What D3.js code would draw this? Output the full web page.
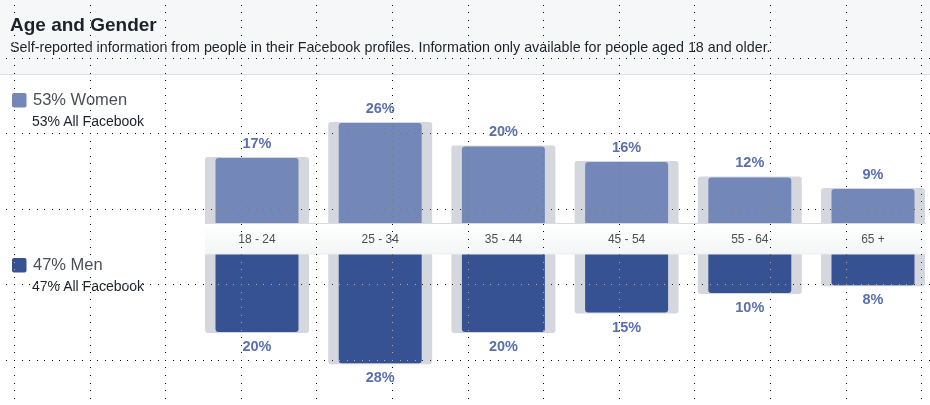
<!DOCTYPE html>
<html>
<head>
<meta charset="utf-8">
<script src="https://cdn.jsdelivr.net/npm/d3@7"></script>
<style>
  body { margin: 0; background: #fff; }
  svg { display: block; font-family: "Liberation Sans", Arial, Helvetica, sans-serif; }
</style>
</head>
<body>
<div id="chart"></div>
<script>
const ageGroups = ["18 - 24", "25 - 34", "35 - 44", "45 - 54", "55 - 64", "65 +"];
const womenPct = [17, 26, 20, 16, 12, 9];
const menPct = [20, 28, 20, 15, 10, 8];
const genders = ["Women", "Men"];
const genderShare = [53, 47];
const allFacebookShare = [53, 47];

const width = 930;
const height = 405;

const womenColor = "#7388b8";
const menColor = "#365292";
const backColor = "#d4d7de";
const labelColor = "#5a70ae";

let svg = d3.select("#chart")
    .append("svg")
    .attr("width", width)
    .attr("height", height);

// header
svg.append("rect")
    .attr("x", 0)
    .attr("y", 0)
    .attr("width", width)
    .attr("height", 74)
    .attr("fill", "#f6f7f9");

svg.append("line")
    .attr("x1", 0)
    .attr("x2", width)
    .attr("y1", 74.5)
    .attr("y2", 74.5)
    .attr("stroke", "#dddfe2");

svg.append("text")
    .attr("x", 10)
    .attr("y", 31)
    .style("font-size", "19px")
    .style("font-weight", "bold")
    .attr("fill", "#1d2129")
    .text("Age and Gender");

svg.append("text")
    .attr("x", 10)
    .attr("y", 52)
    .style("font-size", "14.3px")
    .attr("fill", "#1d2129")
    .text("Self-reported information from people in their Facebook profiles. Information only available for people aged 18 and older.");

// scales
const x = d3.scaleBand()
    .domain(ageGroups)
    .range([205, 925])
    .paddingInner(0.156)
    .paddingOuter(0);

const yUp = d3.scaleLinear().domain([0, 30]).range([224, 224 - 30 * 3.88]);
const yDown = d3.scaleLinear().domain([0, 30]).range([254, 254 + 30 * 3.9]);

const inset = 10.5;

// women (above the band)
svg.append("g")
    .selectAll("rect")
    .data(womenPct)
    .join("rect")
    .attr("x", (d, i) => x(ageGroups[i]))
    .attr("y", d => yUp(d) - 1)
    .attr("width", x.bandwidth())
    .attr("height", d => yUp(0) - yUp(d) + 6)
    .attr("rx", 3)
    .attr("fill", backColor);

svg.append("g")
    .selectAll("rect")
    .data(womenPct)
    .join("rect")
    .attr("x", (d, i) => x(ageGroups[i]) + inset)
    .attr("y", d => yUp(d))
    .attr("width", x.bandwidth() - 2 * inset)
    .attr("height", d => yUp(0) - yUp(d) + 5)
    .attr("rx", 3)
    .attr("fill", womenColor);

// men (below the band)
svg.append("g")
    .selectAll("rect")
    .data(menPct)
    .join("rect")
    .attr("x", (d, i) => x(ageGroups[i]))
    .attr("y", yDown(0) - 6)
    .attr("width", x.bandwidth())
    .attr("height", d => yDown(d) - yDown(0) + 7)
    .attr("rx", 3)
    .attr("fill", backColor);

svg.append("g")
    .selectAll("rect")
    .data(menPct)
    .join("rect")
    .attr("x", (d, i) => x(ageGroups[i]) + inset)
    .attr("y", yDown(0) - 5)
    .attr("width", x.bandwidth() - 2 * inset)
    .attr("height", d => yDown(d) - yDown(0) + 5)
    .attr("rx", 3)
    .attr("fill", menColor);

// axis band
const grad = svg.append("defs")
    .append("linearGradient")
    .attr("id", "band")
    .attr("x1", 0).attr("x2", 0)
    .attr("y1", 0).attr("y2", 1);
grad.append("stop").attr("offset", "0%").attr("stop-color", "#ffffff");
grad.append("stop").attr("offset", "100%").attr("stop-color", "#f4f5f6");

svg.append("rect")
    .attr("x", 205)
    .attr("y", 224)
    .attr("width", 721)
    .attr("height", 30)
    .attr("fill", "url(#band)");

svg.append("line")
    .attr("x1", 205).attr("x2", 926)
    .attr("y1", 223.5).attr("y2", 223.5)
    .attr("stroke", "#d9dbe0");

svg.append("line")
    .attr("x1", 205).attr("x2", 926)
    .attr("y1", 254).attr("y2", 254)
    .attr("stroke", "#eceef0");

const axis = d3.axisBottom(x).tickSize(0).tickPadding(0);
const axisG = svg.append("g")
    .attr("transform", "translate(0,234)")
    .call(axis);
axisG.select(".domain").remove();
axisG.selectAll("text")
    .attr("dy", "0.71em")
    .style("font-size", "12px")
    .style("font-family", "inherit")
    .attr("fill", "#4b4f56");

// percent labels
svg.append("g")
    .selectAll("text")
    .data(womenPct)
    .join("text")
    .attr("x", (d, i) => x(ageGroups[i]) + x.bandwidth() / 2)
    .attr("y", d => yUp(d) - 10)
    .attr("text-anchor", "middle")
    .style("font-size", "14.5px")
    .style("font-weight", "bold")
    .attr("fill", labelColor)
    .text(d => d + "%");

svg.append("g")
    .selectAll("text")
    .data(menPct)
    .join("text")
    .attr("x", (d, i) => x(ageGroups[i]) + x.bandwidth() / 2)
    .attr("y", d => yDown(d) + 19)
    .attr("text-anchor", "middle")
    .style("font-size", "14.5px")
    .style("font-weight", "bold")
    .attr("fill", labelColor)
    .text(d => d + "%");

// legend
const legendY = [93, 258];
const legendColors = [womenColor, menColor];

genders.forEach((g, i) => {
    const legend = svg.append("g")
        .attr("transform", `translate(12,${legendY[i]})`);

    legend.append("rect")
        .attr("width", 14.5)
        .attr("height", 14.5)
        .attr("rx", 2)
        .attr("fill", legendColors[i]);

    legend.append("text")
        .attr("x", 21)
        .attr("y", 11.5)
        .style("font-size", "16.5px")
        .attr("fill", "#4b4f56")
        .text(genderShare[i] + "% " + g);

    legend.append("text")
        .attr("x", 20)
        .attr("y", 32.5)
        .style("font-size", "14px")
        .attr("fill", "#1d2129")
        .text(allFacebookShare[i] + "% All Facebook");
});

// dotted ruler grid laid over the screenshot
const gridStep = 75.6;
const dotStep = gridStep / 10;
const gridX = d3.range(14.5, width, gridStep);
const gridY = d3.range(58, height, gridStep);
const dots = [];
gridX.forEach(gx => {
    d3.range(gridY[0] - dotStep * 7, height, dotStep).forEach(gy => dots.push([gx, gy]));
});
gridY.forEach(gy => {
    d3.range(gridX[0] - dotStep, width, dotStep).forEach(gx => dots.push([gx, gy]));
});

svg.append("g")
    .style("mix-blend-mode", "difference")
    .selectAll("rect")
    .data(dots)
    .join("rect")
    .attr("x", d => Math.floor(d[0]))
    .attr("y", d => Math.floor(d[1]))
    .attr("width", 1)
    .attr("height", 1)
    .attr("fill", "#ffffff");
</script>
</body>
</html>
